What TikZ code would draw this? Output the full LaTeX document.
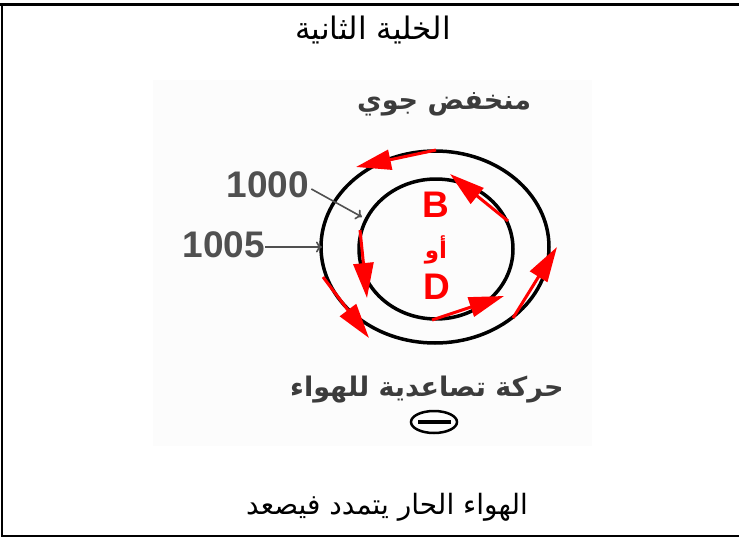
\documentclass[tikz,border=0pt]{standalone}
\usepackage{fontspec}
\usetikzlibrary{arrows.meta}
\TeXXeTstate=1
\newfontfamily\arabicfont[Script=Arabic]{DejaVu Sans}
\newfontfamily\numfont{Liberation Sans}
\definecolor{txtgray}{HTML}{3C3C3C}
\definecolor{numgray}{HTML}{505050}
\definecolor{bggray}{HTML}{FCFCFC}
\definecolor{arrred}{HTML}{FF0000}
\tikzset{
  frameline/.style={line width=2.5pt, black},
  isobar/.style={line width=3.5pt, black},
  flow/.style={line width=3pt, arrred, -{Triangle[length=35pt,width=20pt]}},
  label/.style={line width=1.6pt, numgray, -{To[length=6pt,width=11pt]}},
  numtxt/.style={font=\numfont\bfseries\fontsize{37}{37}\selectfont, text=numgray, inner sep=0pt},
  lettxt/.style={font=\numfont\bfseries\fontsize{37}{37}\selectfont, text=arrred, inner sep=0pt},
  titletxt/.style={font=\arabicfont\fontsize{31}{34}\selectfont, inner sep=0pt},
  graytxt/.style={font=\arabicfont\bfseries\fontsize{27}{30}\selectfont, text=txtgray, inner sep=0pt}
}
\begin{document}
\begin{tikzpicture}[x=1pt,y=-1pt]
\useasboundingbox (0,0) rectangle (739,538);
% frame
\draw[line width=3pt] (0,4) -- (739,4);
\draw[frameline] (2,3) -- (2,536);
\draw[line width=2pt] (1,535.5) -- (739,535.5);
% picture background
\fill[bggray] (153,80) rectangle (592,446);
% titles
\node[titletxt] (title) at (373,30) {\beginR الخلية الثانية\endR};
\node[font=\arabicfont\fontsize{28}{32}\selectfont, inner sep=0pt] (bottom) at (387,507) {\beginR الهواء الحار يتمدد فيصعد\endR};
\node[graytxt] (low) at (444,104) {\beginR منخفض جوي\endR};
\node[graytxt] (rise) at (427,390) {\beginR حركة تصاعدية للهواء\endR};
% symbol
\draw[black, line width=2.5pt] (434,422) ellipse [x radius=23, y radius=11];
\draw[black, line width=3.5pt] (418,422) -- (451,422);
% isobars
\draw[isobar] (435,247) ellipse [x radius=114, y radius=96];
\draw[isobar] (436,249) ellipse [x radius=77, y radius=70];
% letters
\node[lettxt] (B) at (436,205) {B};
\node[font=\arabicfont\bfseries\fontsize{23}{25}\selectfont, text=arrred, inner sep=0pt] (aw) at (436,250) {\beginR أو\endR};
\node[lettxt] (D) at (437,287) {D};
% numbers
\node[numtxt] (n1000) at (268,185) {1000};
\node[numtxt] (n1005) at (224,245) {1005};
\coordinate (t1000) at (362,217);
\coordinate (t1005) at (322,247);
\draw[label] (n1000.east) ++(2,4) -- (t1000);
\draw[label] (n1005.east) ++(0,2) -- (t1005);
% flow arrows
\coordinate (a1s) at (436,150); \coordinate (a1e) at (356,167);
\coordinate (a2s) at (508,221); \coordinate (a2e) at (450,174);
\coordinate (a3s) at (360,230); \coordinate (a3e) at (367,298);
\coordinate (a4s) at (323,277); \coordinate (a4e) at (369,338);
\coordinate (a5s) at (432,320); \coordinate (a5e) at (504,296);
\coordinate (a6s) at (513,318); \coordinate (a6e) at (557,247);
\draw[flow] (a1s) -- (a1e);
\draw[flow] (a2s) -- (a2e);
\draw[flow] (a3s) -- (a3e);
\draw[flow] (a4s) -- (a4e);
\draw[flow] (a5s) -- (a5e);
\draw[flow] (a6s) -- (a6e);
\end{tikzpicture}
\end{document}
